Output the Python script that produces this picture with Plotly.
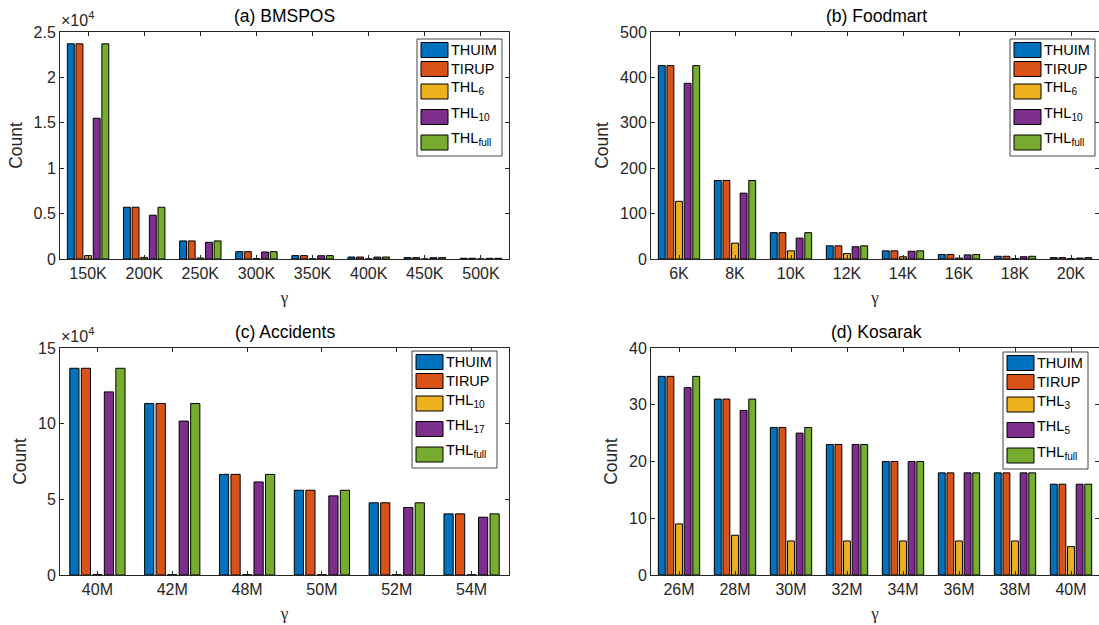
import plotly.graph_objects as go

# ---------------- data ----------------
cats_a = ["150K", "200K", "250K", "300K", "350K", "400K", "450K", "500K"]
thuim_a = [23700, 5700, 1990, 810, 370, 220, 150, 80]
tirup_a = [23700, 5700, 1990, 810, 370, 220, 150, 80]
thl6_a = [370, 180, 110, 50, 20, 10, 5, 3]
thl10_a = [15500, 4820, 1840, 770, 360, 210, 140, 75]
thlfull_a = [23700, 5700, 1990, 810, 370, 220, 150, 80]

cats_b = ["6K", "8K", "10K", "12K", "14K", "16K", "18K", "20K"]
thuim_b = [426, 173, 58, 29, 18, 10, 6, 3]
tirup_b = [426, 173, 58, 29, 18, 10, 6, 3]
thl6_b = [127, 35, 18, 12, 5, 2, 1, 1]
thl10_b = [387, 145, 46, 27, 17, 9, 5, 2]
thlfull_b = [426, 173, 58, 29, 18, 10, 6, 3]

cats_c = ["40M", "42M", "48M", "50M", "52M", "54M"]
thuim_c = [136600, 113300, 66500, 56000, 47700, 40400]
tirup_c = [136600, 113300, 66500, 56000, 47700, 40400]
thl10_c = [300, 250, 200, 180, 160, 150]
thl17_c = [121000, 101700, 61500, 52300, 44600, 38200]
thlfull_c = [136600, 113300, 66500, 56000, 47700, 40400]

cats_d = ["26M", "28M", "30M", "32M", "34M", "36M", "38M", "40M"]
thuim_d = [35, 31, 26, 23, 20, 18, 18, 16]
tirup_d = [35, 31, 26, 23, 20, 18, 18, 16]
thl3_d = [9, 7, 6, 6, 6, 6, 6, 5]
thl5_d = [33, 29, 25, 23, 20, 18, 18, 16]
thlfull_d = [35, 31, 26, 23, 20, 18, 18, 16]

colors = ["#0072BD", "#D95319", "#EDB120", "#7E2F8E", "#77AC30"]

W, H = 1099, 625
OFF = 0  # page body margin is removed by the post script below
FONT = "Liberation Sans, Arial, Helvetica, sans-serif"
AXC = "#262626"

panels = [
    dict(title="(a) BMSPOS", cats=cats_a,
         series=[("THUIM", thuim_a), ("TIRUP", tirup_a), ("THL<sub>6</sub>", thl6_a),
                 ("THL<sub>10</sub>", thl10_a), ("THL<sub>full</sub>", thlfull_a)],
         yrange=[0, 25000], yt=[0, 5000, 10000, 15000, 20000, 25000],
         ytt=["0", "0.5", "1", "1.5", "2", "2.5"], expo=True,
         px=(60, 509), py=(32, 259), leg=(417, 39)),
    dict(title="(b) Foodmart", cats=cats_b,
         series=[("THUIM", thuim_b), ("TIRUP", tirup_b), ("THL<sub>6</sub>", thl6_b),
                 ("THL<sub>10</sub>", thl10_b), ("THL<sub>full</sub>", thlfull_b)],
         yrange=[0, 500], yt=[0, 100, 200, 300, 400, 500],
         ytt=["0", "100", "200", "300", "400", "500"], expo=False,
         px=(651, 1101), py=(32, 259), leg=(1010, 39)),
    dict(title="(c) Accidents", cats=cats_c,
         series=[("THUIM", thuim_c), ("TIRUP", tirup_c), ("THL<sub>10</sub>", thl10_c),
                 ("THL<sub>17</sub>", thl17_c), ("THL<sub>full</sub>", thlfull_c)],
         yrange=[0, 150000], yt=[0, 50000, 100000, 150000],
         ytt=["0", "5", "10", "15"], expo=True,
         px=(60, 509), py=(348, 575), leg=(412, 351)),
    dict(title="(d) Kosarak", cats=cats_d,
         series=[("THUIM", thuim_d), ("TIRUP", tirup_d), ("THL<sub>3</sub>", thl3_d),
                 ("THL<sub>5</sub>", thl5_d), ("THL<sub>full</sub>", thlfull_d)],
         yrange=[0, 40], yt=[0, 10, 20, 30, 40],
         ytt=["0", "10", "20", "30", "40"], expo=False,
         px=(651, 1101), py=(348, 575), leg=(1003, 352)),
]

# legend layout (pixel offsets inside the legend box)
LEG_W, LEG_H = 85, 117
ENTRY_DY = [11, 30, 52.5, 78, 103.5]

fig = go.Figure()
annotations = []
shapes = []
layout = {}


def px_x(v):
    return (v - OFF) / W


def px_y(v):
    return (H - (v - OFF)) / H


for i, p in enumerate(panels):
    k = "" if i == 0 else str(i + 1)
    xa, ya = "x" + k, "y" + k
    for j, (name, vals) in enumerate(p["series"]):
        fig.add_trace(go.Bar(
            x=p["cats"], y=vals, name=name, xaxis=xa, yaxis=ya,
            marker=dict(color=colors[j], line=dict(color="#000000", width=1)),
            showlegend=False,
        ))
    x0, x1 = p["px"]
    y0, y1 = p["py"]
    dx = [px_x(x0), min(px_x(x1), 1.0)]
    dy = [px_y(y1), px_y(y0)]
    common = dict(showline=True, linecolor=AXC, linewidth=1, mirror="ticks",
                  ticks="inside", ticklen=4, tickcolor=AXC, showgrid=False,
                  zeroline=False, automargin=False,
                  tickfont=dict(family=FONT, size=16, color=AXC))
    layout["xaxis" + k] = dict(domain=dx, anchor=ya, type="category",
                               range=[-0.5, len(p["cats"]) - 0.5],
                               title=dict(text="γ", standoff=9,
                                          font=dict(family="Liberation Serif, DejaVu Serif, serif",
                                                    size=17, color=AXC)),
                               **common)
    layout["yaxis" + k] = dict(domain=dy, anchor=xa, range=p["yrange"],
                               tickvals=p["yt"], ticktext=p["ytt"],
                               title=dict(text="Count", standoff=6,
                                          font=dict(family=FONT, size=17.5, color=AXC)),
                               **common)
    # custom legend box
    lx, ly = p["leg"]
    shapes.append(dict(type="rect", xref="paper", yref="paper",
                       x0=px_x(lx), x1=px_x(lx + LEG_W),
                       y0=px_y(ly + LEG_H), y1=px_y(ly),
                       line=dict(color="#444444", width=1), fillcolor="white",
                       layer="above"))
    for j, (name, _) in enumerate(p["series"]):
        cy = ly + ENTRY_DY[j]
        shapes.append(dict(type="rect", xref="paper", yref="paper",
                           x0=px_x(lx + 4), x1=px_x(lx + 31),
                           y0=px_y(cy + 7.5), y1=px_y(cy - 7.5),
                           line=dict(color="#000000", width=1),
                           fillcolor=colors[j], layer="above"))
        annotations.append(dict(text=name, xref="paper", yref="paper",
                                x=px_x(lx + 32), y=px_y(cy - (3 if j >= 2 else 0)),
                                xanchor="left", yanchor="middle", showarrow=False,
                                font=dict(family=FONT, size=14.5, color="#000000")))
    annotations.append(dict(text=p["title"], xref="paper", yref="paper",
                            x=px_x((x0 + x1) / 2), y=px_y(y0 - 4),
                            xanchor="center", yanchor="bottom", showarrow=False,
                            font=dict(family=FONT, size=17.5, color="#000000")))
    if p["expo"]:
        annotations.append(dict(text="×10<sup>4</sup>", xref="paper", yref="paper",
                                x=px_x(x0 - 1), y=px_y(y0 - 1), xanchor="left",
                                yanchor="bottom", showarrow=False,
                                font=dict(family=FONT, size=16, color=AXC)))

fig.update_layout(
    width=W, height=H,
    margin=dict(l=0, r=0, t=0, b=0, autoexpand=False),
    paper_bgcolor="white", plot_bgcolor="white",
    barmode="group", bargap=0.231, bargroupgap=0.2,
    annotations=annotations, shapes=shapes, showlegend=False,
    hovermode=False,
    font=dict(family=FONT, color=AXC),
    **layout,
)

fig.write_html("out.html",
               config={"displayModeBar": False},
               post_script="document.body.style.margin='0';"
                           "document.body.style.overflow='hidden';")
